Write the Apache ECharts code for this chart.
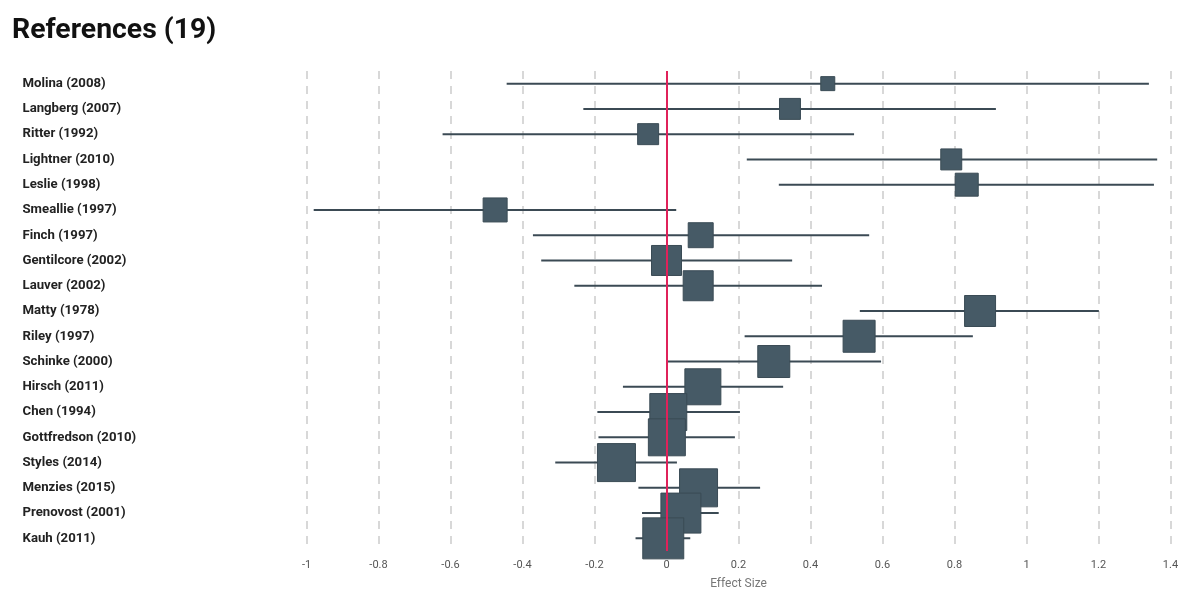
<!DOCTYPE html>
<html>
<head>
<meta charset="utf-8">
<script src="https://cdn.jsdelivr.net/npm/echarts@6/dist/echarts.min.js"></script>
<style>
html,body{margin:0;padding:0;background:#fff;}
#c{width:1200px;height:594px;}
</style>
</head>
<body>
<div id="c"></div>
<script>
const studies = ["Molina (2008)","Langberg (2007)","Ritter (1992)","Lightner (2010)","Leslie (1998)","Smeallie (1997)","Finch (1997)","Gentilcore (2002)","Lauver (2002)","Matty (1978)","Riley (1997)","Schinke (2000)","Hirsch (2011)","Chen (1994)","Gottfredson (2010)","Styles (2014)","Menzies (2015)","Prenovost (2001)","Kauh (2011)"];
const effect = [0.448,0.343,-0.051,0.791,0.834,-0.476,0.095,0.0,0.088,0.871,0.535,0.298,0.101,0.005,0.001,-0.139,0.089,0.040,-0.009];
const ciLow  = [-0.444,-0.231,-0.622,0.223,0.312,-0.98,-0.371,-0.348,-0.256,0.537,0.217,0.002,-0.121,-0.192,-0.189,-0.309,-0.078,-0.068,-0.086];
const ciHigh = [1.340,0.915,0.521,1.363,1.354,0.027,0.563,0.349,0.432,1.201,0.851,0.596,0.324,0.204,0.190,0.029,0.260,0.145,0.066];
const weights = [4.9,11.0,11.0,11.0,13.2,14.4,15.6,22.5,22.5,24.0,25.6,25.6,32.4,34.2,34.2,36.1,36.1,40.0,42.0];
const xTicks = {min:-1, max:1.4, step:0.2};
const nullLine = 0;

const chart = echarts.init(document.getElementById('c'));
const ciData = studies.map((s,i)=>[ciLow[i], ciHigh[i], i]);
const ptData = studies.map((s,i)=>[effect[i], i, weights[i]]);
const dark = '#465a66';

chart.setOption({
  animation:false,
  backgroundColor:'#fff',
  title:{text:'References (19)', left:7, top:12,
    textStyle:{fontFamily:'Roboto', fontWeight:'bold', fontSize:28.4, color:'#111'}},
  grid:{left:306.5, right:29.5, top:71, bottom:43, containLabel:false, outerBoundsMode:'none'},
  xAxis:{type:'value', min:xTicks.min, max:xTicks.max, interval:xTicks.step,
    name:'Effect Size', nameLocation:'middle', nameGap:27,
    nameTextStyle:{fontFamily:'Roboto', fontSize:12, color:'#777'},
    axisLine:{show:false}, axisTick:{show:false},
    axisLabel:{fontFamily:'Roboto', fontSize:11, color:'#555', margin:9,
      formatter:v=>String(Math.round(v*10)/10)},
    splitLine:{show:true, lineStyle:{color:'#d8d8d8', width:2, type:[8,7]}}},
  yAxis:{type:'category', data:studies, inverse:true,
    axisLine:{show:false}, axisTick:{show:false}, splitLine:{show:false},
    axisLabel:{align:'left', margin:284, fontFamily:'Roboto', fontWeight:'bold', fontSize:13.2, color:'#222'}},
  series:[
    {type:'custom', z:2, data:ciData, encode:{x:[0,1], y:2},
      renderItem:(params, api)=>{
        const a = api.coord([api.value(0), api.value(2)]);
        const b = api.coord([api.value(1), api.value(2)]);
        return {type:'line', shape:{x1:a[0], y1:a[1], x2:b[0], y2:b[1]},
          style:{stroke:'#3b4a54', lineWidth:2}};
      }},
    {type:'scatter', z:3, data:[], 
      markLine:{silent:true, symbol:'none', label:{show:false},
        lineStyle:{color:'#e0215a', width:2, type:'solid'},
        data:[{xAxis:nullLine}]}},
    {type:'scatter', z:4, data:ptData, symbol:'rect',
      symbolSize:v=>Math.sqrt(v[2]*40),
      itemStyle:{color:dark, borderColor:'#3a4b55', borderWidth:1, opacity:1}}
  ]
});
</script>
</body>
</html>
